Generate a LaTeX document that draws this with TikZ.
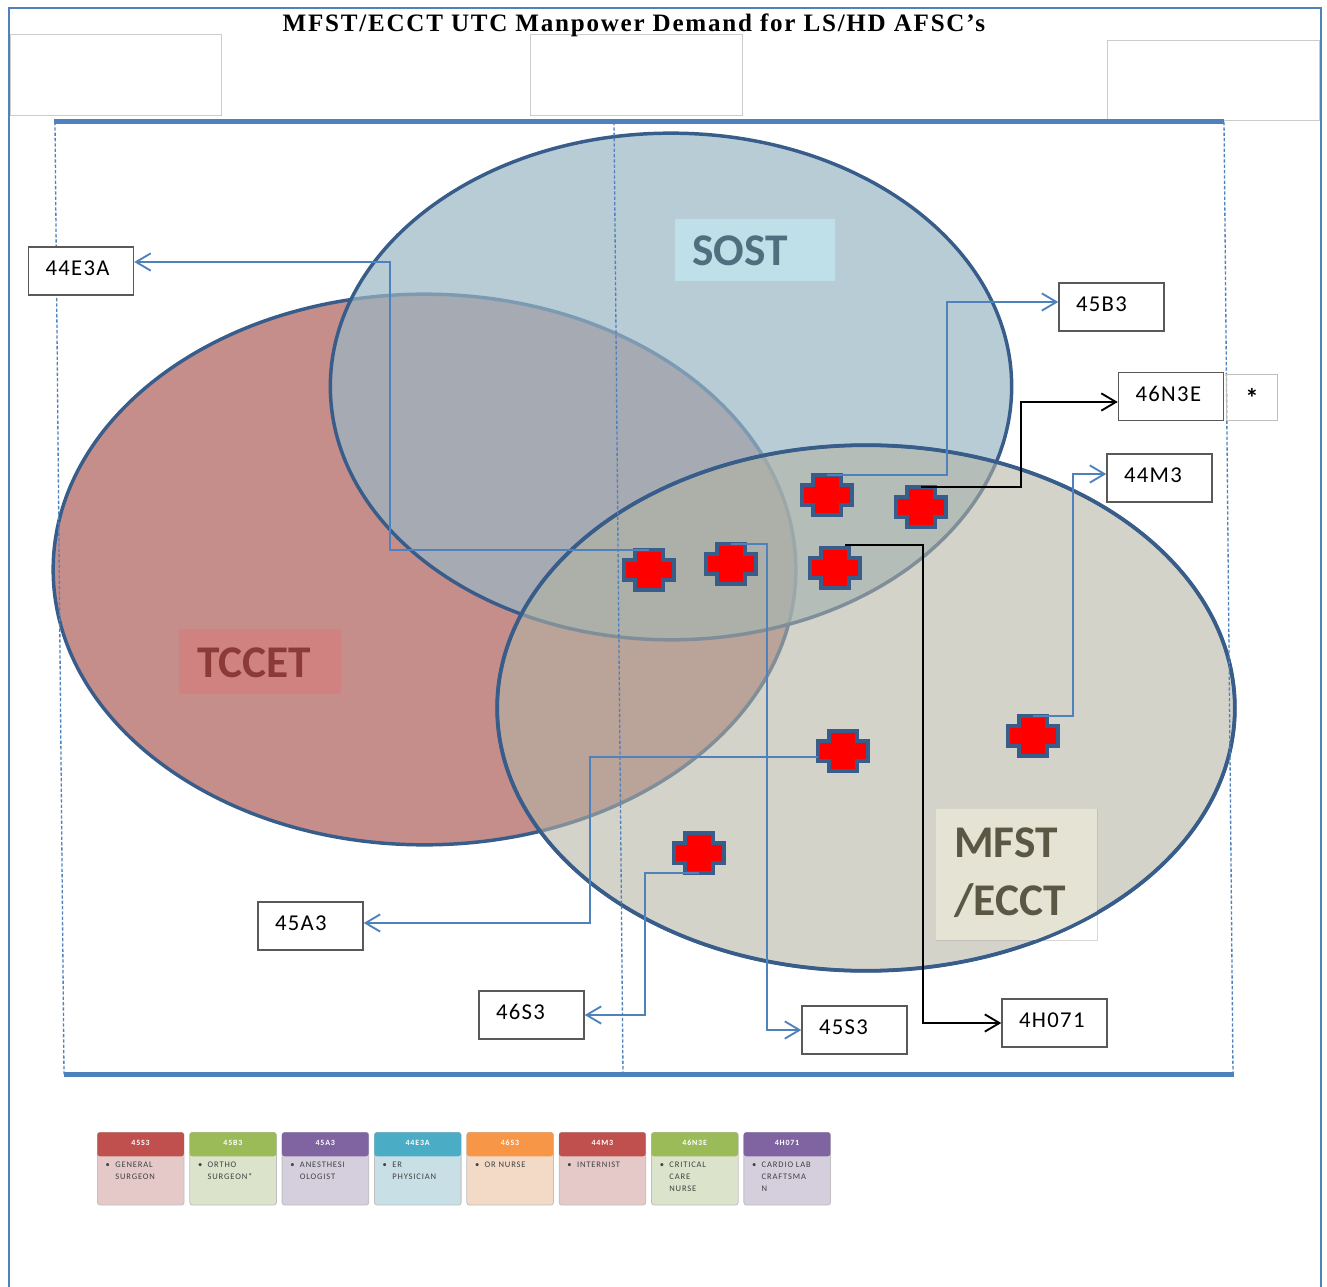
\documentclass[tikz,border=0pt]{standalone}
\usepackage{fontspec}
\setmainfont{Carlito}
\newfontfamily\titlefont[LetterSpace=7]{Liberation Serif}
\newfontfamily\boxfont[LetterSpace=6]{Carlito}
\newfontfamily\cardfont[LetterSpace=10]{Carlito}
\usepackage{xcolor}
\usepackage{tikz}
\usetikzlibrary{shapes.geometric,arrows.meta,positioning,calc}

\definecolor{linkblue}{HTML}{4F81BD}
\definecolor{vennedge}{HTML}{385D8A}
\definecolor{tccetfill}{HTML}{C58E8A}
\definecolor{sostfill}{RGB}{154,182,196}
\definecolor{mfstfill}{RGB}{179,179,164}
\definecolor{sostbox}{HTML}{BFE0E9}
\definecolor{sosttext}{HTML}{4F6F7F}
\definecolor{tccetbox}{HTML}{CF8280}
\definecolor{tccettext}{HTML}{8B3A38}
\definecolor{mfstbox}{HTML}{E5E3D3}
\definecolor{mfsttext}{HTML}{5A5845}
\definecolor{cardred}{HTML}{C0504D}
\definecolor{cardgreen}{HTML}{9BBB59}
\definecolor{cardpurple}{HTML}{8064A2}
\definecolor{cardteal}{HTML}{4BACC6}
\definecolor{cardorange}{HTML}{F79646}

\begin{document}
\begin{tikzpicture}[
    x=0.75pt, y=-0.75pt,
    venn/.style={ellipse, draw=vennedge, line width=2.6pt, inner sep=0pt},
    blank/.style={rectangle, draw=black!20, line width=0.8pt, inner sep=0pt, anchor=north west},
    tag/.style={rectangle, draw=black!65, fill=white, line width=1.1pt, minimum height=36pt, inner xsep=12.75pt, inner ysep=0pt, text width=53.25pt, align=left, text height=9pt, text depth=2pt, font=\boxfont\fontsize{17}{18}\selectfont},
    vennlabel/.style={rectangle, inner sep=0pt, anchor=north west, font=\bfseries\fontsize{34}{44}\selectfont},
    crossmark/.style={rectangle, minimum width=37.5pt, minimum height=30pt, inner sep=0pt},
    crossline/.style={draw=vennedge, fill=red, line width=3pt},
    bluelink/.style={->, >={Straight Barb[length=11pt,width=13pt]}, draw=linkblue, line width=1.4pt},
    blacklink/.style={->, >={Straight Barb[length=11pt,width=13pt]}, draw=black, line width=1.4pt},
    edgedash/.style={draw=linkblue, dash pattern=on 2.5pt off 1.5pt, line width=1pt},
    cardbody/.style={rectangle, rounded corners=2pt, draw=black!25, line width=0.6pt, minimum width=65pt, minimum height=54.5pt, inner sep=0pt, anchor=north west},
    cardhead/.style={rectangle, rounded corners=2pt, minimum width=65pt, minimum height=18pt, inner sep=0pt, anchor=north west, text=white, font=\cardfont\bfseries\fontsize{6}{7}\selectfont},
    cardtext/.style={inner sep=0pt, anchor=north west, align=left, text=black!75, font=\cardfont\fontsize{6.4}{8.8}\selectfont}
]
\useasboundingbox (0,0) rectangle (1327,1287);

% Page frame
\draw[linkblue, line width=1.5pt] (9,1287) -- (9,8) -- (1321,8) -- (1321,1287);

% Empty header boxes
\node[blank, minimum width=158pt, minimum height=61pt] (blankleft) at (10,34) {};
\node[blank, minimum width=159pt, minimum height=61pt] (blankmid) at (530,34) {};
\node[blank, minimum width=159pt, minimum height=60pt] (blankright) at (1107,40) {};

% Title
\node[inner sep=0pt, font=\titlefont\bfseries\fontsize{18.8}{20}\selectfont] (title) at (634,25) {MFST/ECCT UTC Manpower Demand for LS/HD AFSC’s};

% Venn circles
\node[venn, fill=tccetfill, minimum width=557pt, minimum height=413pt] (tccet) at (424.5,569.5) {};
\node[venn, fill=sostfill, fill opacity=0.7, minimum width=511pt, minimum height=380pt] (sost) at (671,386.5) {};
\node[rectangle, draw=black!15, fill=white, line width=0.8pt, minimum width=120.75pt, minimum height=98.25pt, inner sep=0pt, anchor=north west] (mfstcard) at (936,809) {};
\node[venn, fill=mfstfill, fill opacity=0.58, minimum width=553pt, minimum height=394pt] (mfst) at (866,708) {};

% Label boxes
\begin{scope}
\clip (866,708) ellipse [x radius=369, y radius=263];
\fill[mfstbox] (936,809) rectangle (1097,940);
\end{scope}
\draw[vennedge, line width=2.6pt] (866,708) ellipse [x radius=369, y radius=263];
\node[rectangle, fill=sostbox, minimum width=120pt, minimum height=46.5pt, inner sep=0pt, anchor=north west] (sostcard) at (675,219) {};
\node[vennlabel, text=sosttext] at (692,236) (sostlabel) {SOST};
\node[rectangle, fill=tccetbox, minimum width=121.5pt, minimum height=48.75pt, inner sep=0pt, anchor=north west] (tccetcard) at (179,629) {};
\node[vennlabel, text=tccettext] at (197,648) (tccetlabel) {TCCET};
\node[vennlabel, text=mfsttext, align=left] at (954,827) (mfstlabel) {MFST\\/ECCT};

% Dashed guides
\draw[edgedash] (55,122) -- (64,1074);
\draw[edgedash] (614,122) -- (623,1074);
\draw[edgedash] (1224,122) -- (1233,1074);
\draw[linkblue, line width=3.75pt] (54,122) -- (1224,122);
\draw[linkblue, line width=3.75pt] (64,1074) -- (1234,1074);

% Red crosses
\foreach \n/\x/\y in {cone/827/495, ctwo/921/507, cthree/835/568, cfour/731/564, cfive/649/570, csix/843/751, cseven/1033/736, ceight/699/853}{
    \node[crossmark] (\n) at (\x,\y) {};
    \draw[crossline] (\n.center) ++(-14,-20) -- ++(28,0) -- ++(0,10) -- ++(11,0) -- ++(0,20) -- ++(-11,0) -- ++(0,10) -- ++(-28,0) -- ++(0,-10) -- ++(-11,0) -- ++(0,-20) -- ++(11,0) -- cycle;
}

% AFSC boxes
\node[tag] (a44e3a) at (81,271) {44E3A};
\node[tag] (a45b3) at (1111.5,307) {45B3};
\node[tag] (a46n3e) at (1171,396.5) {46N3E};
\node[rectangle, draw=black!25, line width=0.8pt, minimum width=38pt, minimum height=34.5pt, inner sep=0pt, right=1.5pt of a46n3e, yshift=-1pt, font=\bfseries\fontsize{20}{20}\selectfont] (star) {\raisebox{-9pt}{*}};
\node[tag] (a44m3) at (1159.5,478) {44M3};
\node[tag] (a45a3) at (310.5,926) {45A3};
\node[tag] (a46s3) at (531.5,1015) {46S3};
\node[tag] (a45s3) at (854.5,1030) {45S3};
\node[tag] (a4h071) at (1054.5,1023) {4H071};

% Arrows
\draw[bluelink] (cfive.north) -- ++(-259,0) |- ($(a44e3a.east)+(0,-9)$);
\draw[bluelink] (cone.north) -- ++(120,0) |- ($(a45b3.west)+(0,-5)$);
\draw[blacklink] (ctwo.north) -- ++(100,0) |- ($(a46n3e.west)+(0,5.5)$);
\draw[bluelink] (cseven.north) -- ++(40,0) |- ($(a44m3.west)+(0,-4)$);
\draw[blacklink] (cthree.north) ++(10,-3) -- ++(78,0) |- (a4h071.west);
\draw[bluelink] (cfour.north) -- ++(36,0) |- (a45s3.west);
\draw[bluelink] ($(csix.west)+(0,6)$) -- ++(-228,0) |- ($(a45a3.east)+(0,-3)$);
\draw[bluelink] (ceight.south) -- ++(-54,0) |- (a46s3.east);

% Legend cards
\foreach \i/\col/\head/\body [count=\k from 0] in {
    cs/cardred/45S3/{GENERAL\\SURGEON},
    cb/cardgreen/45B3/{ORTHO\\SURGEON*},
    ca/cardpurple/45A3/{ANESTHESI\\OLOGIST},
    ce/cardteal/44E3A/{ER\\PHYSICIAN},
    cn/cardorange/46S3/{OR NURSE},
    cm/cardred/44M3/{INTERNIST},
    cc/cardgreen/46N3E/{CRITICAL\\CARE\\NURSE},
    cl/cardpurple/4H071/{CARDIO LAB\\CRAFTSMA\\N}}{
    \node[cardbody, fill=\col!85!black!29!white] (body\i) at (97+92.35*\k,1132) {};
    \node[cardhead, fill=\col, text height=5pt, text depth=3pt] (head\i) at (97+92.35*\k,1132) {\head};
    \node[cardtext] (text\i) at (115+92.35*\k,1162) {\llap{\textbullet\hspace{4pt}}\body};
}
\end{tikzpicture}
\end{document}
